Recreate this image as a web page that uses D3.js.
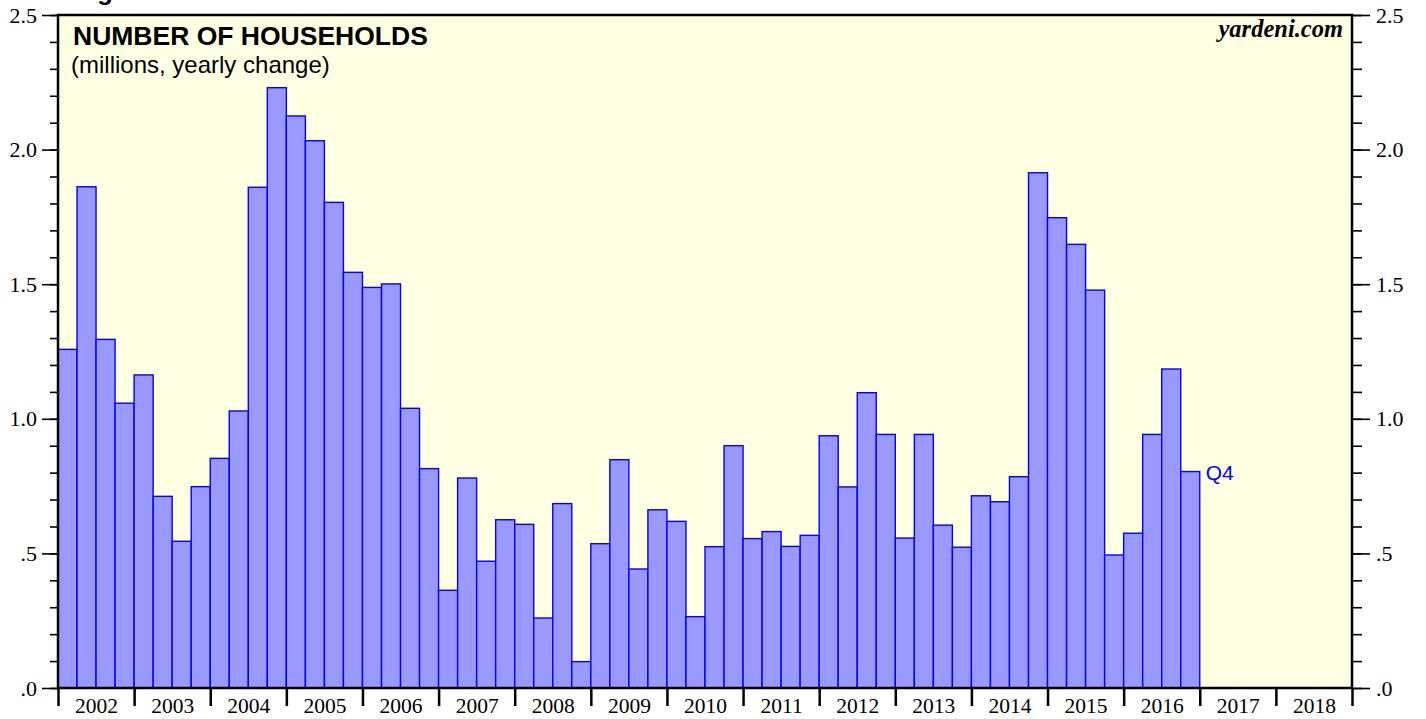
<!DOCTYPE html>
<html>
<head>
<meta charset="utf-8">
<script src="https://cdn.jsdelivr.net/npm/d3@7"></script>
<style>
  html, body { margin: 0; padding: 0; background: #ffffff; }
  svg { display: block; }
</style>
</head>
<body>
<svg id="chart" width="1426" height="719"></svg>
<script>
// ---- Data ----
const years = [2002, 2003, 2004, 2005, 2006, 2007, 2008, 2009, 2010, 2011, 2012, 2013, 2014, 2015, 2016];
const quarters = ["Q1", "Q2", "Q3", "Q4"];
// Yearly change in number of households (millions), quarterly
const values = [
  1.258, 1.862, 1.295, 1.058,
  1.163, 0.712, 0.545, 0.748,
  0.853, 1.029, 1.860, 2.230,
  2.125, 2.033, 1.804, 1.544,
  1.488, 1.501, 1.039, 0.815,
  0.363, 0.780, 0.471, 0.625,
  0.608, 0.260, 0.685, 0.098,
  0.536, 0.848, 0.442, 0.662,
  0.619, 0.265, 0.525, 0.900,
  0.555, 0.581, 0.526, 0.567,
  0.937, 0.747, 1.097, 0.942,
  0.557, 0.942, 0.605, 0.523,
  0.714, 0.692, 0.785, 1.914,
  1.747, 1.648, 1.478, 0.494,
  0.575, 0.942, 1.185, 0.804
];
const axisYears = [2002, 2003, 2004, 2005, 2006, 2007, 2008, 2009, 2010, 2011, 2012, 2013, 2014, 2015, 2016, 2017, 2018];
const yMajorTicks = [0, 0.5, 1.0, 1.5, 2.0, 2.5];
const yTickLabels = [".0", ".5", "1.0", "1.5", "2.0", "2.5"];
const figureText = "Figure 3.";
const titleText = "NUMBER OF HOUSEHOLDS";
const subtitleText = "(millions, yearly change)";
const sourceText = "yardeni.com";
const lastLabel = "Q4";

(function () {
const data = values.map((v, i) => ({
  year: years[Math.floor(i / 4)],
  q: i % 4,
  value: v
}));

// ---- Layout ----
const pL = 58, pR = 1352, pT = 15, pB = 688;
const svg = d3.select("#chart");

const x = d3.scaleLinear().domain([2002, 2019]).range([pL, pR]);
const y = d3.scaleLinear().domain([0, 2.5]).range([pB, pT]);

// figure caption, cut at the very top as in the source image
svg.append("text")
  .attr("x", 74).attr("y", -0.5)
  .attr("font-family", "Liberation Sans, Arial, sans-serif")
  .attr("font-weight", "bold")
  .attr("font-size", 26)
  .attr("fill", "#000")
  .text(figureText);

// plot background
svg.append("rect")
  .attr("x", pL).attr("y", pT)
  .attr("width", pR - pL).attr("height", pB - pT)
  .attr("fill", "#ffffe3");

// bars
const qw = (x(2003) - x(2002)) / 4;
svg.append("g").selectAll("rect")
  .data(data)
  .join("rect")
  .attr("x", d => x(d.year + d.q / 4))
  .attr("y", d => y(d.value))
  .attr("width", qw)
  .attr("height", d => y(0) - y(d.value))
  .attr("fill", "#9999ff")
  .attr("stroke", "#0000ff")
  .attr("stroke-width", 1.4);

// Q4 label
const last = data[data.length - 1];
svg.append("text")
  .attr("x", x(last.year + 1) + 6)
  .attr("y", y(last.value) + 8.5)
  .attr("font-family", "Liberation Sans, Arial, sans-serif")
  .attr("font-size", 21)
  .attr("fill", "#0000ff")
  .text(lastLabel);

// frame
svg.append("rect")
  .attr("x", pL).attr("y", pT)
  .attr("width", pR - pL).attr("height", pB - pT)
  .attr("fill", "none")
  .attr("stroke", "#000")
  .attr("stroke-width", 2.5);

// y axes (left and right)
const minorTicks = d3.range(0, 26).map(i => i / 10);
const leftAxisMinor = d3.axisLeft(y).tickValues(minorTicks).tickSize(8).tickFormat("");
const leftAxisMajor = d3.axisLeft(y).tickValues(yMajorTicks).tickSize(16)
  .tickFormat((d, i) => yTickLabels[i]).tickPadding(5);
const rightAxisMinor = d3.axisRight(y).tickValues(minorTicks).tickSize(10).tickFormat("");
const rightAxisMajor = d3.axisRight(y).tickValues(yMajorTicks).tickSize(18)
  .tickFormat((d, i) => yTickLabels[i]).tickPadding(6);

function styleAxis(g) {
  g.select(".domain").remove();
  g.selectAll("line").attr("stroke", "#000").attr("stroke-width", 1.6);
  g.selectAll("text")
    .attr("font-family", "Liberation Serif, Times New Roman, serif")
    .attr("font-size", 22)
    .attr("fill", "#000");
}
svg.append("g").attr("transform", `translate(${pL},0)`).call(leftAxisMinor).call(styleAxis);
svg.append("g").attr("transform", `translate(${pL},0)`).call(leftAxisMajor).call(styleAxis);
svg.append("g").attr("transform", `translate(${pR},0)`).call(rightAxisMinor).call(styleAxis);
svg.append("g").attr("transform", `translate(${pR},0)`).call(rightAxisMajor).call(styleAxis);

// x axis: year boundary ticks
const xTicksAxis = d3.axisBottom(x).tickValues(d3.range(2002, 2020)).tickSize(18).tickFormat("");
svg.append("g").attr("transform", `translate(0,${pB})`).call(xTicksAxis)
  .call(g => {
    g.select(".domain").remove();
    g.selectAll("line").attr("stroke", "#000").attr("stroke-width", 2.5);
  });
// x labels centered in each year
const xLabelAxis = d3.axisBottom(x).tickValues(axisYears.map(d => d + 0.5)).tickSize(0)
  .tickFormat((d, i) => String(axisYears[i])).tickPadding(10);
svg.append("g").attr("transform", `translate(0,${pB})`).call(xLabelAxis)
  .call(g => {
    g.select(".domain").remove();
    g.selectAll("text")
      .attr("font-family", "Liberation Serif, Times New Roman, serif")
      .attr("font-size", 21.5)
      .attr("fill", "#000");
  });

// titles
svg.append("text")
  .attr("x", 73).attr("y", 45)
  .attr("font-family", "Liberation Sans, Arial, sans-serif")
  .attr("font-weight", "bold")
  .attr("font-size", 26.5)
  .attr("fill", "#000")
  .text(titleText);
svg.append("text")
  .attr("x", 71).attr("y", 73)
  .attr("font-family", "Liberation Sans, Arial, sans-serif")
  .attr("font-size", 24)
  .attr("fill", "#000")
  .text(subtitleText);
svg.append("text")
  .attr("x", 1343).attr("y", 37)
  .attr("text-anchor", "end")
  .attr("font-family", "Liberation Serif, Times New Roman, serif")
  .attr("font-weight", "bold")
  .attr("font-style", "italic")
  .attr("font-size", 24.5)
  .attr("fill", "#000")
  .text(sourceText);
})();
</script>
</body>
</html>
